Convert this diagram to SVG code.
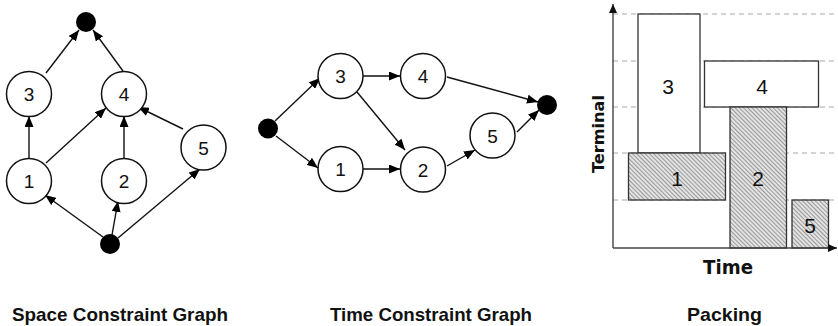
<svg xmlns="http://www.w3.org/2000/svg" width="838" height="326" viewBox="0 0 838 326">
  <style>
    .node circle { fill: #fff; stroke: #111; stroke-width: 1.5; }
    .dot { fill: #000; }
    .num { font-family: "Liberation Sans", Arial, sans-serif; font-size: 19px; fill: #111; text-anchor: middle; }
    .pnum { font-family: "Liberation Sans", Arial, sans-serif; font-size: 21px; fill: #111; text-anchor: middle; }
    .edge { stroke: #111; stroke-width: 1.4; fill: none; marker-end: url(#arrow); }
    .caption { font-family: "Liberation Sans", Arial, sans-serif; font-weight: bold; font-size: 18.5px; fill: #111; }
    .axislabel { font-family: "DejaVu Sans", Verdana, sans-serif; font-weight: bold; fill: #111; }
    .grid { stroke: #a8a8a8; stroke-width: 1; stroke-dasharray: 5 4; }
    .axis { stroke: #444; stroke-width: 1.4; fill: none; marker-end: url(#axisArrow); }
    .box { fill: #fff; stroke: #333; stroke-width: 1.3; }
    .hatched { fill: url(#hatch); stroke: #333; stroke-width: 1.3; }
  </style>
  <defs>
    <marker id="arrow" markerUnits="userSpaceOnUse" markerWidth="11" markerHeight="9" refX="11" refY="4.5" orient="auto">
      <path d="M0,0 L11,4.5 L0,9 z" fill="#000"/>
    </marker>
    <marker id="axisArrow" markerUnits="userSpaceOnUse" markerWidth="9" markerHeight="8" refX="9" refY="4" orient="auto">
      <path d="M0,0 L9,4 L0,8 z" fill="#111"/>
    </marker>
    <pattern id="hatch" patternUnits="userSpaceOnUse" width="3" height="3" patternTransform="rotate(45)">
      <rect width="3" height="3" fill="#e2e2e2"/>
      <line x1="0" y1="0.5" x2="3" y2="0.5" stroke="#9a9a9a" stroke-width="1"/>
    </pattern>
  </defs>

  <!-- Space constraint graph -->
  <g id="space-graph">
    <g id="connectors-space">
      <line class="edge" x1="103" y1="237" x2="45" y2="195"/>
      <line class="edge" x1="112" y1="235" x2="118" y2="201"/>
      <line class="edge" x1="118" y1="238" x2="200" y2="169"/>
      <line class="edge" x1="29" y1="158" x2="29" y2="116"/>
      <line class="edge" x1="46" y1="163" x2="106" y2="108"/>
      <line class="edge" x1="124" y1="158" x2="124" y2="116"/>
      <line class="edge" x1="183" y1="129" x2="138" y2="107"/>
      <line class="edge" x1="46" y1="73" x2="79" y2="30"/>
      <line class="edge" x1="123" y1="71" x2="93" y2="30"/>
    </g>
    <g id="s-top"><circle class="dot" cx="86" cy="22" r="10"/></g>
    <g id="s-bottom"><circle class="dot" cx="110" cy="244" r="10"/></g>
    <g id="s-n3" class="node"><circle cx="29" cy="94" r="22.5"/><text class="num" x="29" y="101">3</text></g>
    <g id="s-n4" class="node"><circle cx="124" cy="94" r="22.5"/><text class="num" x="124" y="101">4</text></g>
    <g id="s-n1" class="node"><circle cx="29" cy="181" r="22.5"/><text class="num" x="29" y="188">1</text></g>
    <g id="s-n2" class="node"><circle cx="124" cy="181" r="22.5"/><text class="num" x="124" y="188">2</text></g>
    <g id="s-n5" class="node"><circle cx="203.5" cy="147.5" r="22.5"/><text class="num" x="203.5" y="154.5">5</text></g>
  </g>

  <!-- Time constraint graph -->
  <g id="time-graph">
    <g id="connectors-time">
      <line class="edge" x1="275" y1="121" x2="320" y2="78"/>
      <line class="edge" x1="276" y1="136" x2="318" y2="168"/>
      <line class="edge" x1="363" y1="76" x2="400" y2="76"/>
      <line class="edge" x1="357" y1="92" x2="405" y2="150"/>
      <line class="edge" x1="363" y1="169" x2="400" y2="169"/>
      <line class="edge" x1="447" y1="166" x2="475" y2="150"/>
      <line class="edge" x1="447" y1="77" x2="538" y2="102"/>
      <line class="edge" x1="517" y1="132" x2="539" y2="110"/>
    </g>
    <g id="t-start"><circle class="dot" cx="268" cy="128.5" r="10"/></g>
    <g id="t-end"><circle class="dot" cx="547" cy="105" r="10"/></g>
    <g id="t-n3" class="node"><circle cx="340.5" cy="76" r="22.5"/><text class="num" x="340.5" y="83">3</text></g>
    <g id="t-n4" class="node"><circle cx="423" cy="76" r="22.5"/><text class="num" x="423" y="83">4</text></g>
    <g id="t-n1" class="node"><circle cx="340.5" cy="169" r="22.5"/><text class="num" x="340.5" y="176">1</text></g>
    <g id="t-n2" class="node"><circle cx="423" cy="169.5" r="22.5"/><text class="num" x="423" y="176.5">2</text></g>
    <g id="t-n5" class="node"><circle cx="492.5" cy="135.5" r="22.5"/><text class="num" x="492.5" y="142.5">5</text></g>
  </g>

  <!-- Packing chart -->
  <g id="packing">
    <g id="gridlines">
      <line class="grid" x1="613" y1="14" x2="838" y2="14"/>
      <line class="grid" x1="613" y1="61" x2="838" y2="61"/>
      <line class="grid" x1="613" y1="107" x2="838" y2="107"/>
      <line class="grid" x1="613" y1="153" x2="838" y2="153"/>
      <line class="grid" x1="613" y1="200" x2="838" y2="200"/>
    </g>
    <g id="p3"><rect class="box" x="638" y="14" width="62" height="139"/><text class="pnum" x="668" y="93.5">3</text></g>
    <g id="p4"><rect class="box" x="704.5" y="61" width="114" height="46"/><text class="pnum" x="762" y="93.5">4</text></g>
    <g id="p1"><rect class="hatched" x="628.5" y="153" width="97" height="47"/><text class="pnum" x="677" y="185.5">1</text></g>
    <g id="p2"><rect class="hatched" x="730" y="107" width="56.5" height="141"/><text class="pnum" x="758" y="185.5">2</text></g>
    <g id="p5"><rect class="hatched" x="792" y="200" width="36.5" height="48"/><text class="pnum" x="810" y="232.5">5</text></g>
    <g id="axes">
      <line class="axis" x1="613" y1="248" x2="613" y2="4"/>
      <line class="axis" x1="613" y1="248" x2="837" y2="248"/>
    </g>
    <text class="axislabel" font-size="16.5" text-anchor="middle" textLength="78" lengthAdjust="spacingAndGlyphs" transform="translate(604,134) rotate(-90)">Terminal</text>
    <text class="axislabel" font-size="19" x="703" y="274" textLength="50" lengthAdjust="spacingAndGlyphs">Time</text>
  </g>

  <!-- Captions -->
  <text class="caption" x="12" y="321" textLength="216" lengthAdjust="spacingAndGlyphs">Space Constraint Graph</text>
  <text class="caption" x="330" y="321" textLength="202" lengthAdjust="spacingAndGlyphs">Time Constraint Graph</text>
  <text class="caption" x="687" y="321" textLength="75" lengthAdjust="spacingAndGlyphs">Packing</text>
</svg>
